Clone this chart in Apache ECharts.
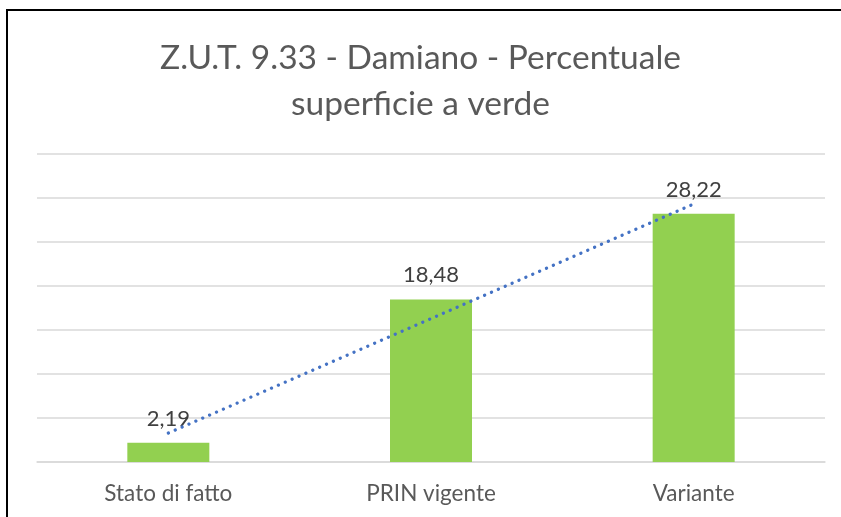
<!DOCTYPE html>
<html>
<head>
<meta charset="utf-8">
<script src="https://cdn.jsdelivr.net/npm/echarts@6/dist/echarts.min.js"></script>
<style>
  html, body { margin: 0; padding: 0; background: #ffffff; }
  #chart { width: 841px; height: 517px; }
</style>
</head>
<body>
<div id="chart"></div>
<script>
// Percentuale superficie a verde per scenario
const categories = ['Stato di fatto', 'PRIN vigente', 'Variante'];
const values = [2.19, 18.48, 28.22];

// Linear trendline (least squares over category index 1..n)
function linearTrend(ys) {
  const n = ys.length;
  const xs = ys.map((_, i) => i + 1);
  const mx = xs.reduce((a, b) => a + b, 0) / n;
  const my = ys.reduce((a, b) => a + b, 0) / n;
  let num = 0, den = 0;
  for (let i = 0; i < n; i++) {
    num += (xs[i] - mx) * (ys[i] - my);
    den += (xs[i] - mx) * (xs[i] - mx);
  }
  const slope = num / den;
  const icpt = my - slope * mx;
  return xs.map(x => icpt + slope * x);
}
const trend = linearTrend(values);

const FONT = 'Lato, "Open Sans", sans-serif';
const fmt = v => v.toFixed(2).replace('.', ',');

const chart = echarts.init(document.getElementById('chart'), null, { renderer: 'canvas' });
chart.setOption({
  animation: false,
  backgroundColor: '#ffffff',
  textStyle: { fontFamily: FONT },
  graphic: [{
    type: 'rect',
    shape: { x: 7, y: 10, width: 900, height: 600 },
    style: { fill: 'none', stroke: '#000000', lineWidth: 2 },
    silent: true
  }],
  title: {
    text: 'Z.U.T. 9.33 - Damiano - Percentuale\nsuperficie a verde',
    left: 'center',
    top: 30,
    textStyle: {
      fontFamily: FONT,
      fontSize: 33.5,
      fontWeight: 'normal',
      color: '#595959',
      lineHeight: 46
    }
  },
  grid: { left: 37, right: 16, top: 154, bottom: 55 },
  xAxis: {
    type: 'category',
    data: categories,
    boundaryGap: true,
    axisLine: { show: true, lineStyle: { color: '#d9d9d9', width: 1.5 } },
    axisTick: { show: false },
    axisLabel: { color: '#595959', fontSize: 22.5, fontFamily: FONT, margin: 20 }
  },
  yAxis: {
    type: 'value',
    min: 0,
    max: 35,
    interval: 5,
    axisLine: { show: false },
    axisTick: { show: false },
    axisLabel: { show: false },
    splitLine: { lineStyle: { color: '#d9d9d9', width: 1.5 } }
  },
  series: [
    {
      type: 'bar',
      data: values,
      barWidth: 82,
      itemStyle: { color: '#92d050' },
      label: {
        show: true,
        position: 'top',
        distance: 13,
        color: '#404040',
        fontSize: 22,
        fontFamily: FONT,
        formatter: p => fmt(p.value)
      },
      z: 2
    },
    {
      type: 'line',
      data: trend,
      symbol: 'none',
      lineStyle: { color: '#4472c4', width: 3.3, type: [0.1, 7.4], cap: 'round' },
      z: 3,
      silent: true
    }
  ]
});
</script>
</body>
</html>
